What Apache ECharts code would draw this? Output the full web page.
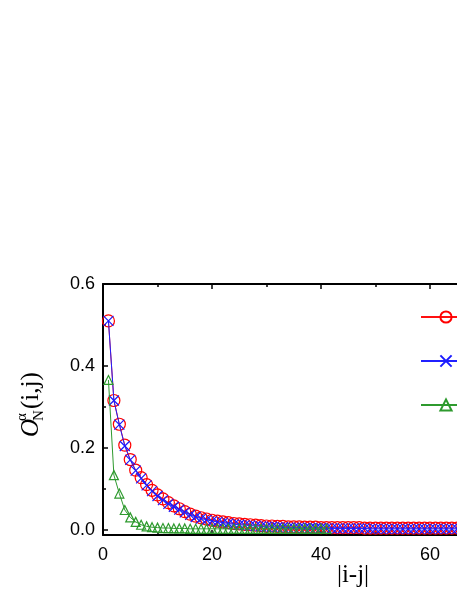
<!DOCTYPE html>
<html lang="en">
<head>
<meta charset="UTF-8">
<title>O_N(i,j)</title>
<style>
    html,body{margin:0;padding:0;background:#fff}
    #chart{width:457px;height:591px}
</style>
</head>
<body>
<div id="chart"></div>
<script src="https://cdn.jsdelivr.net/npm/echarts@6/dist/echarts.min.js"></script>
<script>
    // |i-j|
    var distance = [1,2,3,4,5,6,7,8,9,10,11,12,13,14,15,16,17,18,19,20,
        21,22,23,24,25,26,27,28,29,30,31,32,33,34,35,36,37,38,39,40,
        41,42,43,44,45,46,47,48,49,50,51,52,53,54,55,56,57,58,59,60,
        61,62,63,64,65,66];
    var redValues = [0.510,0.316,0.258,0.207,0.172,0.146,0.128,0.111,0.097,0.086,
        0.076,0.067,0.059,0.052,0.045,0.039,0.034,0.030,0.027,0.024,
        0.022,0.020,0.018,0.016,0.015,0.014,0.013,0.012,0.011,0.010,
        0.010,0.009,0.009,0.008,0.008,0.008,0.007,0.007,0.007,0.006,
        0.006,0.006,0.006,0.006,0.006,0.006,0.006,0.005,0.005,0.005,
        0.005,0.005,0.005,0.005,0.005,0.005,0.005,0.005,0.005,0.005,
        0.005,0.005,0.005,0.005,0.005,0.005];
    var blueValues = [0.510,0.316,0.257,0.205,0.171,0.145,0.126,0.109,0.095,0.083,
        0.073,0.064,0.057,0.050,0.043,0.037,0.032,0.028,0.025,0.022,
        0.020,0.018,0.016,0.014,0.013,0.012,0.011,0.010,0.009,0.008,
        0.008,0.007,0.007,0.006,0.006,0.006,0.005,0.005,0.005,0.005,
        0.004,0.004,0.004,0.004,0.004,0.004,0.004,0.004,0.003,0.003,
        0.003,0.003,0.003,0.003,0.003,0.003,0.003,0.003,0.003,0.003,
        0.003,0.003,0.003,0.003,0.003,0.003];
    var greenValues = [0.366,0.134,0.089,0.049,0.031,0.020,0.013,0.009,0.007,0.006,
        0.005,0.005,0.004,0.004,0.004,0.003,0.003,0.003,0.003,0.003,
        0.003,0.003,0.003,0.003,0.003,0.003,0.003,0.003,0.003,0.003,
        0.003,0.003,0.003,0.003,0.003,0.003,0.003,0.003,0.003,0.003,
        0.003];
    var seriesNames = ['a', 'b', 'c'];
    var yMajorTicks = [0, 0.2, 0.4, 0.6];
    var yMinorTicks = [0.1, 0.3, 0.5];

    var black = '#000';
    var crossPath = 'path://M0,0L10,10M10,0L0,10';

    function pairs(vals) {
        return vals.map(function (v, i) { return [distance[i], v]; });
    }

    var xAxisBase = {
        type: 'value',
        min: 0,
        max: 80,
        interval: 20,
        axisLine: {onZero: false, lineStyle: {color: black, width: 2}},
        axisTick: {inside: true, length: 5, lineStyle: {color: black, width: 1.5}},
        minorTick: {show: true, splitNumber: 2, length: 3, lineStyle: {color: black, width: 1.5}},
        splitLine: {show: false}
    };

    var option = {
        animation: false,
        backgroundColor: '#fff',
        textStyle: {fontFamily: 'Liberation Sans, Arial, sans-serif'},
        // plot runs past the right edge of the page, so no clamping
        grid: {left: 103, top: 284, width: 436, height: 251, outerBoundsMode: 'none', containLabel: false},
        legend: {
            orient: 'vertical',
            left: 420,
            top: 309,
            padding: 0,
            itemWidth: 50,
            itemHeight: 14,
            itemGap: 28,
            textStyle: {fontSize: 16, color: black},
            data: seriesNames
        },
        xAxis: [
            Object.assign({}, xAxisBase, {
                position: 'bottom',
                axisLabel: {fontSize: 18, color: black, margin: 11}
            }),
            Object.assign({}, xAxisBase, {
                position: 'top',
                axisLabel: {show: false}
            })
        ],
        yAxis: [
            {
                type: 'value',
                min: -0.012,
                max: 0.6,
                position: 'left',
                axisLine: {onZero: false, lineStyle: {color: black, width: 2}},
                axisTick: {inside: true, length: 5, customValues: yMajorTicks,
                    lineStyle: {color: black, width: 1.5}},
                axisLabel: {fontSize: 18, color: black, margin: 8, customValues: yMajorTicks,
                    formatter: function (v) { return v.toFixed(1); }},
                splitLine: {show: false}
            },
            {
                type: 'value',
                min: -0.012,
                max: 0.6,
                position: 'left',
                axisLine: {show: false},
                axisTick: {inside: true, length: 3, customValues: yMinorTicks,
                    lineStyle: {color: black, width: 1.5}},
                axisLabel: {show: false},
                splitLine: {show: false}
            }
        ],
        series: [
            {
                name: seriesNames[0],
                type: 'line',
                data: pairs(redValues),
                symbol: 'circle',
                symbolSize: 12,
                lineStyle: {color: '#ff1010', width: 1},
                itemStyle: {color: 'rgba(0,0,0,0)', borderColor: '#ff0000', borderWidth: 1.2},
                z: 2
            },
            {
                name: seriesNames[1],
                type: 'line',
                data: pairs(blueValues),
                symbol: crossPath,
                symbolSize: 10,
                lineStyle: {color: '#2020ff', width: 1},
                itemStyle: {color: 'rgba(0,0,0,0)', borderColor: '#1a1aff', borderWidth: 1.2},
                z: 3
            },
            {
                name: seriesNames[2],
                type: 'line',
                data: pairs(greenValues),
                symbol: 'triangle',
                symbolSize: 9,
                lineStyle: {color: '#2e9a2e', width: 1},
                itemStyle: {color: 'rgba(0,0,0,0)', borderColor: '#2e9a2e', borderWidth: 1.2},
                z: 4
            }
        ],
        graphic: [
            {
                type: 'text',
                x: 353,
                y: 575,
                style: {
                    text: '|i-j|',
                    font: '25px "Liberation Serif", "Times New Roman", serif',
                    fill: black,
                    align: 'center',
                    verticalAlign: 'middle'
                }
            },
            {
                type: 'group',
                x: 31,
                y: 437,
                rotation: Math.PI / 2,
                children: [
                    {type: 'text', x: 0, y: 0, style: {text: 'O',
                        font: 'italic 25px "Liberation Serif", serif', fill: black,
                        align: 'left', verticalAlign: 'middle'}},
                    {type: 'text', x: 16, y: -9, style: {text: 'α',
                        font: '15px "Liberation Serif", serif', fill: black,
                        align: 'left', verticalAlign: 'middle'}},
                    {type: 'text', x: 16, y: 8, style: {text: 'N',
                        font: '15px "Liberation Serif", serif', fill: black,
                        align: 'left', verticalAlign: 'middle'}},
                    {type: 'text', x: 28, y: 0, style: {text: '(i,j)',
                        font: '25px "Liberation Serif", serif', fill: black,
                        align: 'left', verticalAlign: 'middle'}}
                ]
            }
        ]
    };

    var chart = echarts.init(document.getElementById('chart'));
    chart.setOption(option);
</script>
</body>
</html>
